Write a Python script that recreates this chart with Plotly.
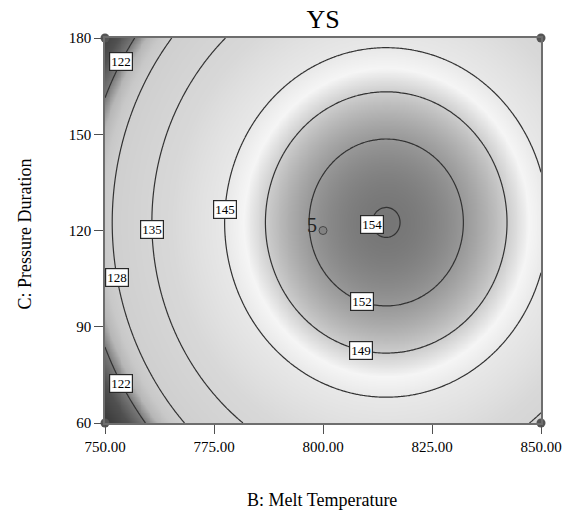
import numpy as np
import plotly.graph_objects as go

# Response-surface model for YS in coded units
#   x = (B - 800) / 50   (B: Melt Temperature)
#   y = (C - 120) / 60   (C: Pressure Duration)
# terms: intercept, x, y, xy, x^2, y^2
model_terms = ["Intercept", "B", "C", "BC", "B^2", "C^2"]
model_coefs = [152.66, 9.57, 0.92, 0.0, -16.5, -11.0]

b_range = [750.0, 850.0]
c_range = [60.0, 180.0]
b_ticks = [750, 775, 800, 825, 850]
b_ticklabels = ["750.00", "775.00", "800.00", "825.00", "850.00"]
c_ticks = [60, 90, 120, 150, 180]
c_ticklabels = ["60", "90", "120", "150", "180"]

contour_levels = [122, 128, 135, 145, 149, 152, 154]

# Design points shown on the plot
corner_b = [750, 750, 850, 850]
corner_c = [60, 180, 60, 180]
center_b = [800]
center_c = [120]
center_runs = ["5"]

# Gray ramp: response value -> gray level
ramp_values = [114.0, 119.0, 122.0, 124.0, 126.0, 128.0, 138.0, 145.0, 147.0, 149.0, 152.0, 154.2]
ramp_grays = [55, 80, 122, 182, 200, 207, 216, 232, 245, 205, 152, 118]

b0, b1, b2, b12, b11, b22 = model_coefs


def coded(b, c):
    return (np.asarray(b) - 800.0) / 50.0, (np.asarray(c) - 120.0) / 60.0


def ys(b, c):
    x, y = coded(b, c)
    return b0 + b1 * x + b2 * y + b12 * x * y + b11 * x * x + b22 * y * y


def solve_b(level, c, low=True):
    # B on the given contour level at fixed C
    _, y = coded(800.0, c)
    A = b11
    Bq = b1 + b12 * y
    Cq = b0 + b2 * y + b22 * y * y - level
    d = np.sqrt(Bq * Bq - 4 * A * Cq)
    roots = sorted([(-Bq + d) / (2 * A), (-Bq - d) / (2 * A)])
    x = roots[0] if low else roots[1]
    return 800.0 + 50.0 * x


def solve_c(level, b, low=True):
    # C on the given contour level at fixed B
    x, _ = coded(b, 120.0)
    A = b22
    Bq = b2 + b12 * x
    Cq = b0 + b1 * x + b11 * x * x - level
    d = np.sqrt(Bq * Bq - 4 * A * Cq)
    roots = sorted([(-Bq + d) / (2 * A), (-Bq - d) / (2 * A)])
    y = roots[0] if low else roots[1]
    return 120.0 + 60.0 * y


bg = np.linspace(b_range[0], b_range[1], 241)
cg = np.linspace(c_range[0], c_range[1], 241)
BB, CC = np.meshgrid(bg, cg)
Z = ys(BB, CC)
zmin, zmax = float(Z.min()), float(Z.max())

colorscale = []
for v, g in zip(ramp_values, ramp_grays):
    p = min(max((v - zmin) / (zmax - zmin), 0.0), 1.0)
    if colorscale and p <= colorscale[-1][0]:
        colorscale[-1] = [colorscale[-1][0], f"rgb({g},{g},{g})"]
        continue
    colorscale.append([p, f"rgb({g},{g},{g})"])
colorscale[0][0] = 0.0
colorscale[-1][0] = 1.0

SERIF = "Liberation Serif, Times New Roman, serif"

fig = go.Figure()
fig.add_trace(go.Heatmap(
    x=bg, y=cg, z=Z, zmin=zmin, zmax=zmax, colorscale=colorscale,
    zsmooth="best", showscale=False, hoverinfo="skip",
))

for lvl in contour_levels:
    fig.add_trace(go.Contour(
        x=bg, y=cg, z=Z, autocontour=False,
        contours=dict(start=lvl, end=lvl, size=1, coloring="none"),
        line=dict(color="rgb(50,50,50)", width=1.2),
        showscale=False, hoverinfo="skip",
    ))

# boxed contour labels placed on their contour lines
label_points = [
    (122, solve_b(122, 172.8), 172.8),
    (122, solve_b(122, 72.4), 72.4),
    (128, solve_b(128, 105.4), 105.4),
    (135, solve_b(135, 120.4), 120.4),
    (145, solve_b(145, 126.6), 126.6),
    (154, solve_b(154, 122.0), 122.0),
    (152, 808.9, solve_c(152, 808.9)),
    (149, 808.7, solve_c(149, 808.7)),
]
for lvl, bx, cy in label_points:
    fig.add_annotation(
        x=bx, y=cy, text=str(lvl), showarrow=False,
        font=dict(family=SERIF, size=13, color="black"),
        bgcolor="white", bordercolor="rgb(40,40,40)", borderwidth=1.2, borderpad=1,
    )

fig.add_trace(go.Scatter(
    x=corner_b, y=corner_c, mode="markers", cliponaxis=False,
    marker=dict(size=9, color="rgb(85,85,85)"), hoverinfo="skip",
))
fig.add_trace(go.Scatter(
    x=center_b, y=center_c, mode="markers", cliponaxis=False,
    marker=dict(size=8, color="rgb(130,130,130)", line=dict(color="rgb(70,70,70)", width=1)),
    hoverinfo="skip",
))
for bx, cy, n in zip(center_b, center_c, center_runs):
    fig.add_annotation(
        x=bx, y=cy, text=n, showarrow=False, xanchor="right",
        xshift=-4, yshift=6, font=dict(family=SERIF, size=20, color="rgb(35,35,35)"),
    )

# axis titles
fig.add_annotation(
    xref="paper", yref="paper", x=0.498, y=-0.20, text="B: Melt Temperature",
    showarrow=False, xanchor="center", yanchor="middle",
    font=dict(family=SERIF, size=18, color="black"),
)
fig.add_annotation(
    xref="paper", yref="paper", x=-0.183, y=0.49, text="C: Pressure Duration",
    showarrow=False, xanchor="center", yanchor="middle", textangle=-90,
    font=dict(family=SERIF, size=18, color="black"),
)

axis_common = dict(
    showgrid=False, zeroline=False, showline=True, mirror=True,
    linecolor="rgb(110,110,110)", linewidth=1.5,
    ticks="outside", ticklen=9, tickcolor="rgb(80,80,80)", tickwidth=1.2,
    tickfont=dict(family=SERIF, size=15, color="black"),
    automargin=False,
)
fig.update_layout(
    width=571, height=510,
    margin=dict(l=105, r=30, t=38, b=87),
    paper_bgcolor="white", plot_bgcolor="white",
    showlegend=False,
    title=dict(text="YS", x=(105 + 541) / 2 / 571, xanchor="center",
               y=1 - 19 / 510, yanchor="middle",
               font=dict(family=SERIF, size=26, color="black")),
    xaxis=dict(range=b_range, tickvals=b_ticks, ticktext=b_ticklabels, **axis_common),
    yaxis=dict(range=c_range, tickvals=c_ticks, ticktext=c_ticklabels, **axis_common),
)

fig.write_html("out.html")
